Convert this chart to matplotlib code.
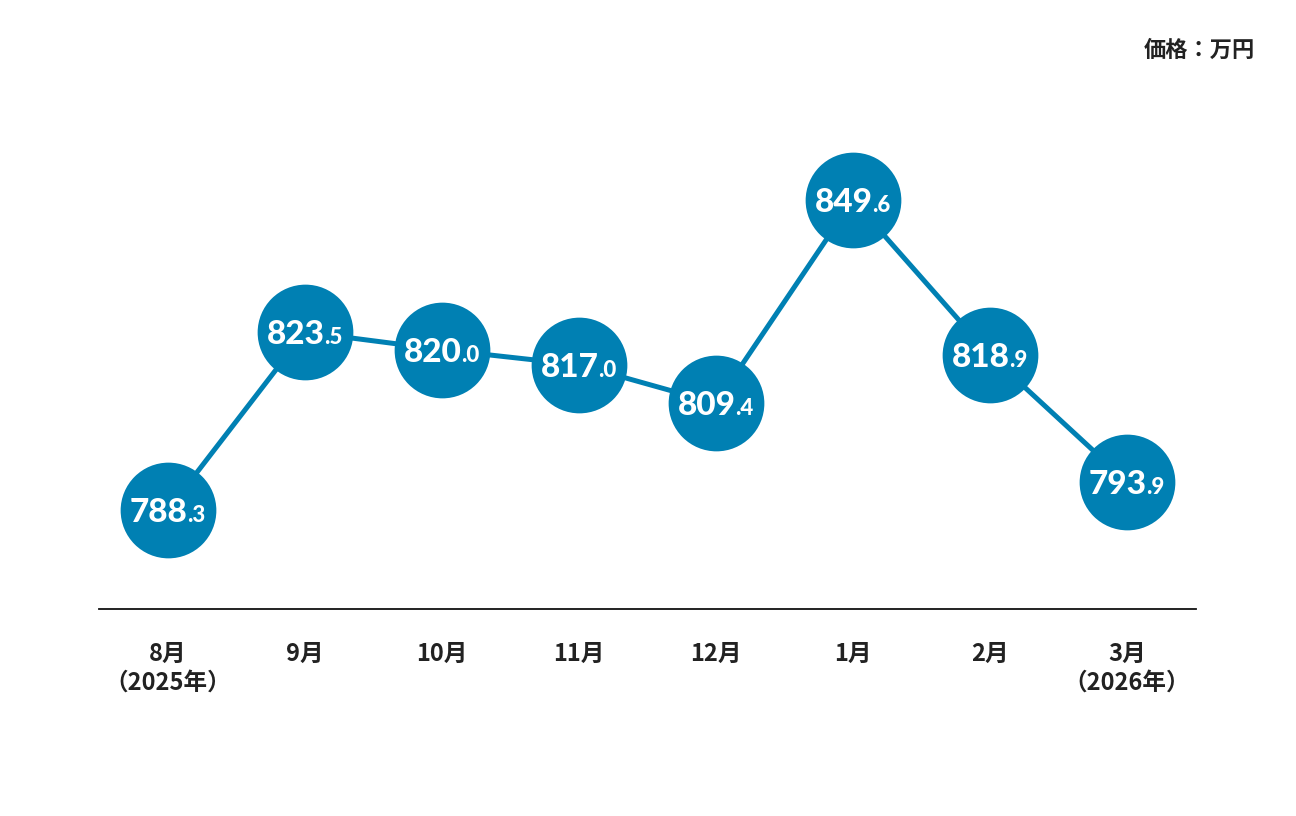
import matplotlib
matplotlib.use("Agg")
import matplotlib.pyplot as plt

plt.rcParams['font.family'] = ['Noto Sans CJK JP', 'DejaVu Sans']

# data
months = ["8月\n（2025年）", "9月", "10月", "11月", "12月", "1月", "2月", "3月\n（2026年）"]
prices = [788.3, 823.5, 820.0, 817.0, 809.4, 849.6, 818.9, 793.9]

blue = "#0080B3"

fig = plt.figure(figsize=(12.96, 8.16), dpi=100)
ax = fig.add_axes([99 / 1296, 1 - 609 / 816, 1097 / 1296, 509 / 816])

x = list(range(len(prices)))
ax.plot(x, prices, color=blue, lw=3.6, zorder=2)
ax.scatter(x, prices, s=4750, color=blue, zorder=3, linewidths=0)

ax.set_xlim(-0.504, 7.504)
ax.set_ylim(768.7, 869.4)

# labels inside circles: big integer part + small decimal part
pairs = []
for i, v in enumerate(prices):
    s = f"{v:.1f}"
    main, dec = s.split(".")
    t1 = ax.annotate(main, (i, v), xytext=(0, -12), textcoords="offset pixels",
                     ha="left", va="baseline", color="white", fontsize=24,
                     fontweight="black", family="Lato", zorder=4)
    t2 = ax.annotate("." + dec, (i, v), xytext=(0, -12), textcoords="offset pixels",
                     ha="left", va="baseline", color="white", fontsize=16,
                     fontweight="black", family="Lato", zorder=4)
    pairs.append((t1, t2))

fig.canvas.draw()
r = fig.canvas.get_renderer()
for t1, t2 in pairs:
    w1 = t1.get_window_extent(r).width
    w2 = t2.get_window_extent(r).width
    left = -(w1 + w2) / 2
    t1.xyann = (left, -12)
    t2.xyann = (left + w1 - 1, -12)

ax.set_xticks(x)
ax.set_xticklabels(months, fontsize=17, fontweight="bold", color="#222222",
                   linespacing=1.25, va="top")
ax.tick_params(axis="x", length=0, pad=24)
ax.set_yticks([])
for side in ["top", "left", "right"]:
    ax.spines[side].set_visible(False)
ax.spines["bottom"].set_linewidth(1.3)
ax.spines["bottom"].set_color("#111111")
ax.set_facecolor("none")

fig.text(1255 / 1296, 1 - 50 / 816, "価格：万円", ha="right", va="center",
         fontsize=16, fontweight="bold", color="#222222")

fig.savefig("out.png", dpi=100, facecolor="white")
